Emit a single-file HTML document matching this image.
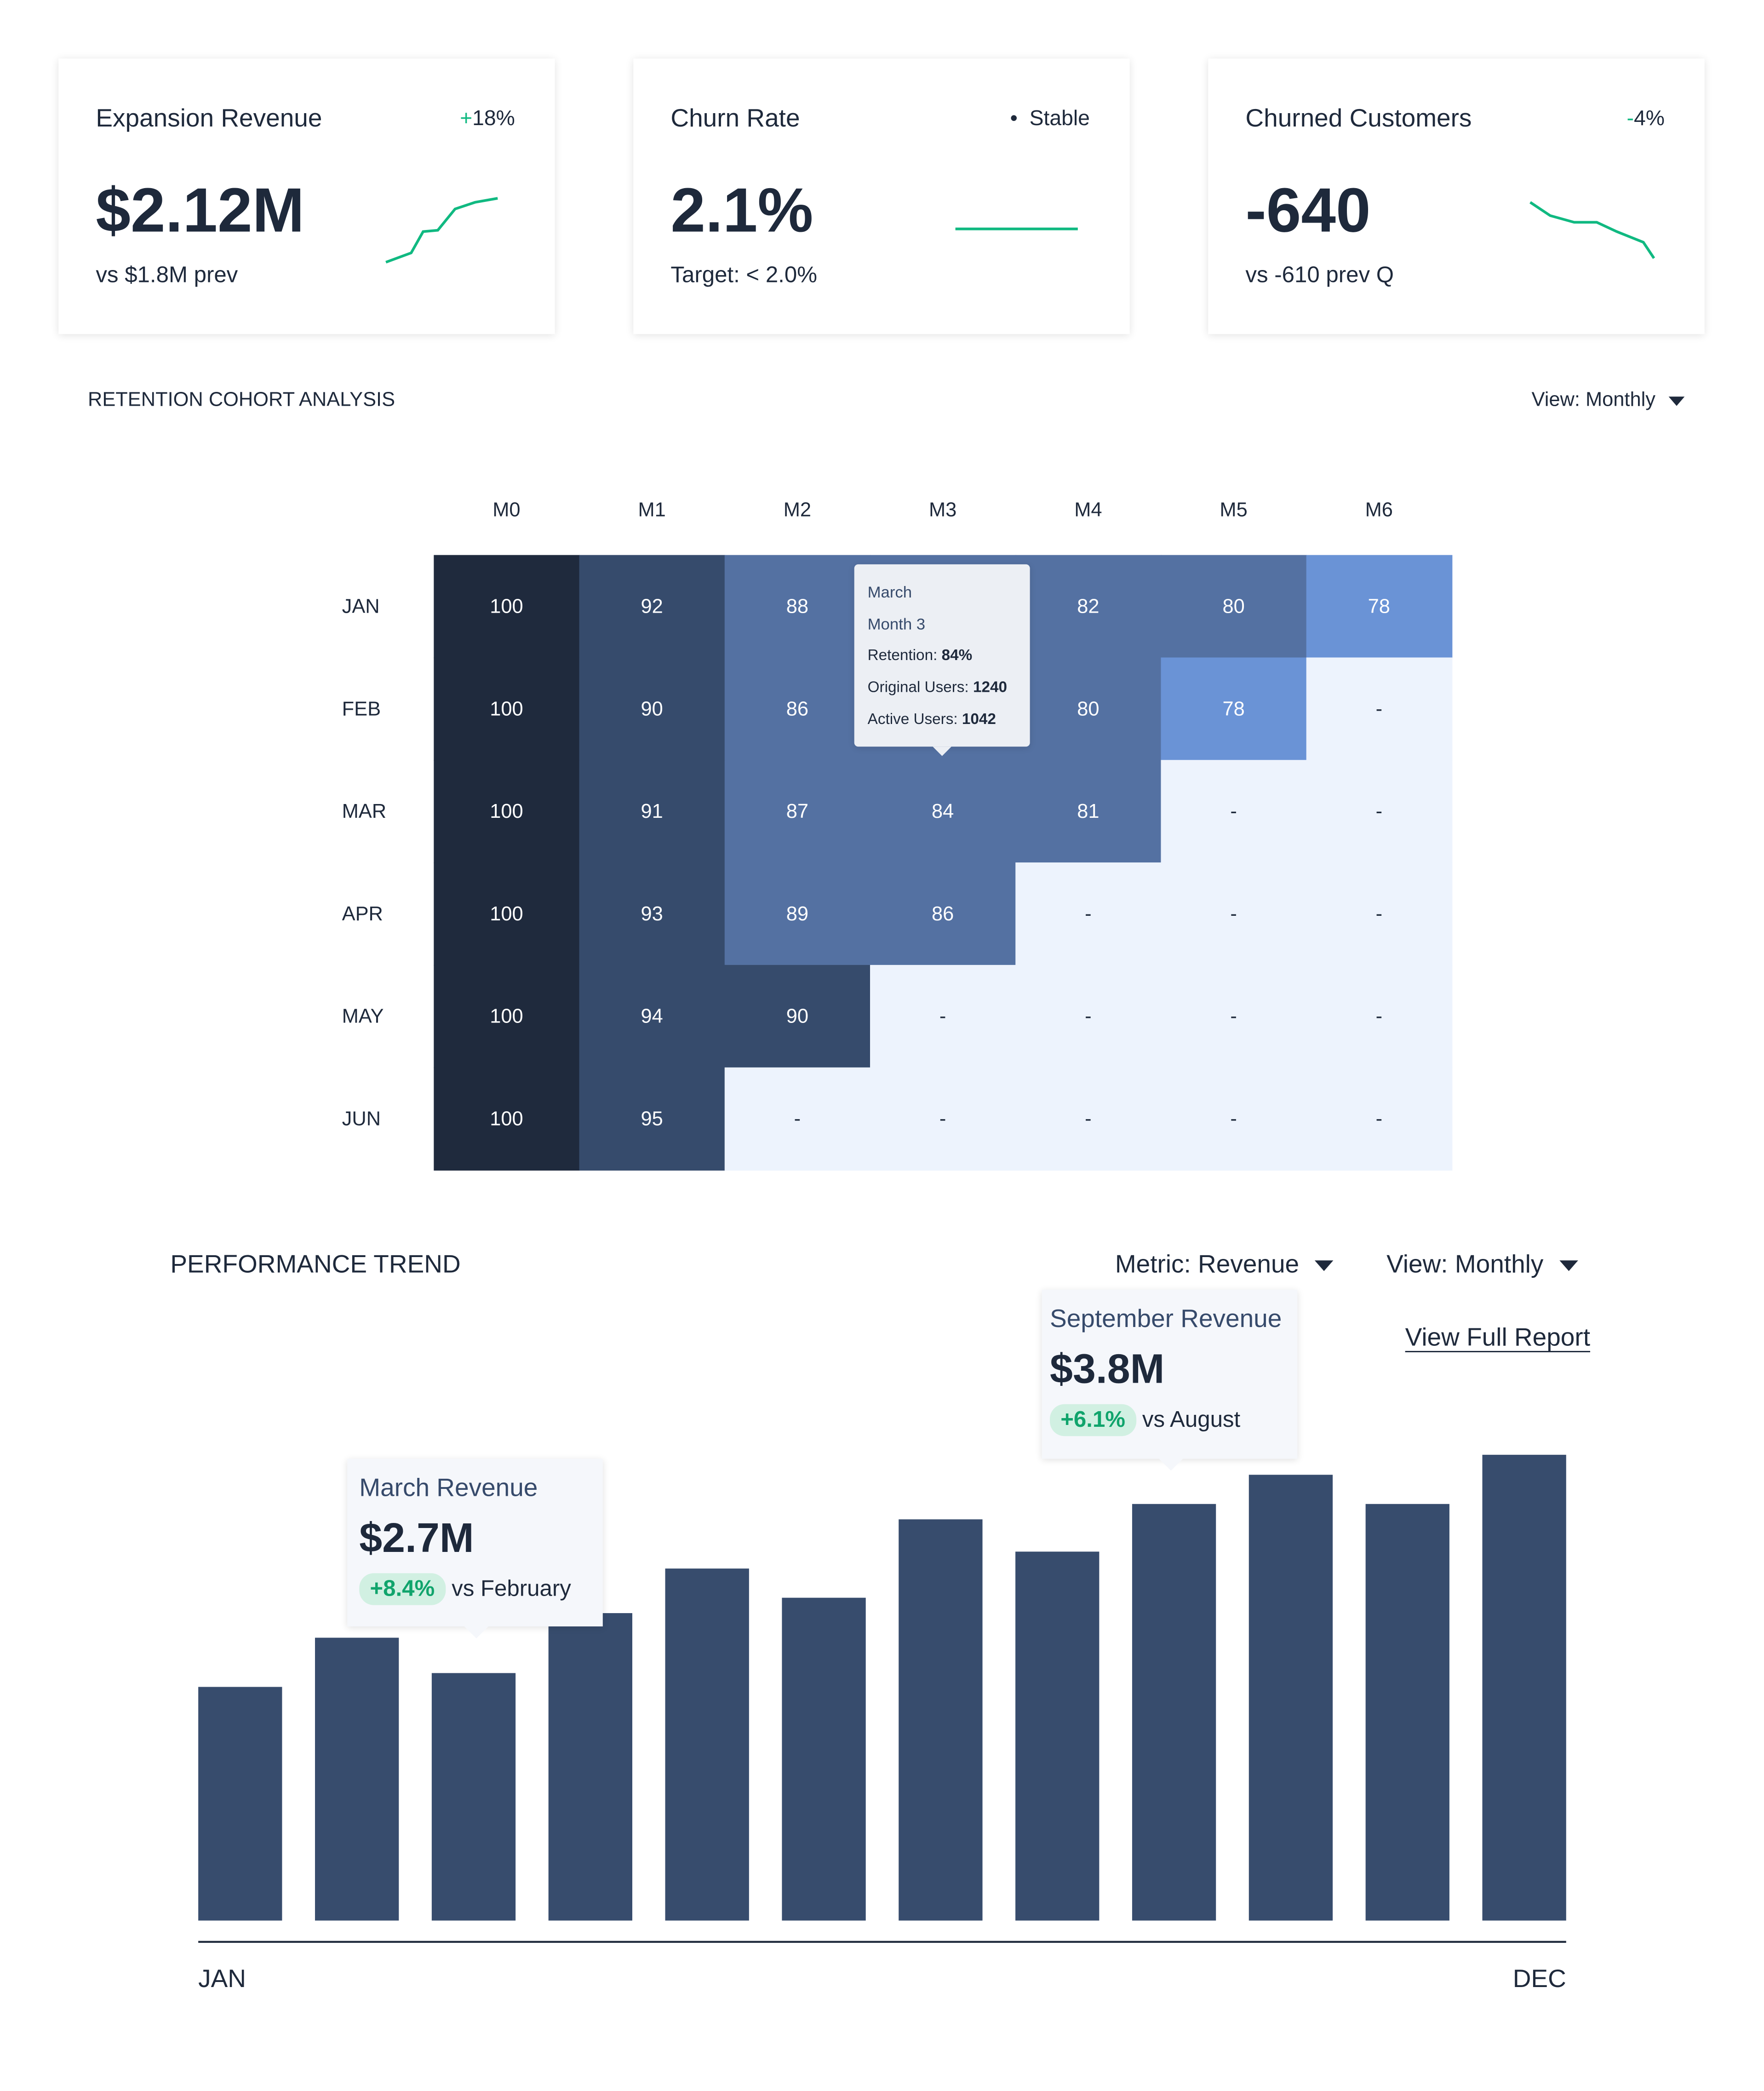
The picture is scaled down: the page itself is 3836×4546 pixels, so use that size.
<!DOCTYPE html>
<html><head><meta charset="utf-8">
<style>
html,body{margin:0;padding:0;background:#fff;}
body{width:3836px;height:4535px;overflow:hidden;}
#wrap{position:absolute;left:0;top:0;width:1326px;height:1568px;transform:scale(2.8936);transform-origin:0 0;font-family:"Liberation Sans",sans-serif;color:#1e293b;}
.card{position:absolute;top:44px;width:373px;height:207px;background:#fff;box-shadow:0 1px 6px rgba(0,0,0,0.12);}
.ct{position:absolute;left:28px;top:35px;font-size:19px;}
.cd{position:absolute;right:30px;top:37px;font-size:16px;}
.cv{position:absolute;left:28px;top:86px;font-size:47px;font-weight:bold;}
.cs{position:absolute;left:28px;top:153px;font-size:17px;}
.abs{position:absolute;}
.tip{position:absolute;background:#f5f7fb;box-shadow:0 1px 5px rgba(0,0,0,0.12);}
.badge{display:inline-block;background:#d1f0e2;color:#10a46c;border-radius:11px;padding:2px 8px;font-weight:bold;}
.tri{display:inline-block;width:0;height:0;border-left:7px solid transparent;border-right:7px solid transparent;border-top:8px solid #1e293b;vertical-align:middle;margin-left:12px;}
.tri.s{border-left-width:6px;border-right-width:6px;border-top-width:7px;margin-left:10px;}
</style></head><body>
<div id="wrap">
<div class="card" style="left:44px">
 <div class="ct">Expansion Revenue</div>
 <div class="cd"><span style="color:#10b981">+</span>18%</div>
 <div class="cv">$2.12M</div>
 <div class="cs">vs $1.8M prev</div>
 <svg class="abs" style="left:0;top:0" width="373" height="207"><polyline fill="none" stroke="#10b981" stroke-width="2" points="246,153 265,146 274,130 285,129 298,113 313,108 330,105"/></svg>
</div>
<div class="card" style="left:476px">
 <div class="ct">Churn Rate</div>
 <div class="cd">• &nbsp;Stable</div>
 <div class="cv">2.1%</div>
 <div class="cs">Target: &lt; 2.0%</div>
 <svg class="abs" style="left:0;top:0" width="373" height="207"><line x1="242" y1="128" x2="334" y2="128" stroke="#10b981" stroke-width="2"/></svg>
</div>
<div class="card" style="left:908px">
 <div class="ct">Churned Customers</div>
 <div class="cd"><span style="color:#10b981">-</span>4%</div>
 <div class="cv">-640</div>
 <div class="cs">vs -610 prev Q</div>
 <svg class="abs" style="left:0;top:0" width="373" height="207"><polyline fill="none" stroke="#10b981" stroke-width="2" points="242,108 257,118 275,123 292,123 307,130 327,138 335,150"/></svg>
</div>

<div class="abs" style="left:66px;top:292px;font-size:15px">RETENTION COHORT ANALYSIS</div>
<div class="abs" style="left:1151px;top:292px;font-size:15px">View: Monthly<span class="tri s"></span></div>

<svg id="heat" class="abs" style="left:0;top:0" width="1329" height="900"></svg>

<div class="tip" style="left:642px;top:424px;width:132px;height:137px;background:#eceff4;border-radius:3px;font-size:12px;line-height:24px;padding:9px 10px;box-sizing:border-box;">
 <div style="color:#364a6b">March</div><div style="color:#364a6b">Month 3</div>
 <div style="font-size:11.5px">Retention: <b>84%</b></div>
 <div style="font-size:11.5px">Original Users: <b>1240</b></div>
 <div style="font-size:11.5px">Active Users: <b>1042</b></div>
 <div style="position:absolute;left:59px;bottom:-7px;width:0;height:0;border-left:7px solid transparent;border-right:7px solid transparent;border-top:7px solid #eceff4"></div>
</div>

<div class="abs" style="left:128px;top:940px;font-size:19px">PERFORMANCE TREND</div>
<div class="abs" style="left:838px;top:940px;font-size:19px">Metric: Revenue<span class="tri"></span></div>
<div class="abs" style="left:1042px;top:940px;font-size:19px">View: Monthly<span class="tri"></span></div>
<div class="abs" style="left:1056px;top:995px;font-size:19px;text-decoration:underline;text-underline-offset:4px">View Full Report</div>

<svg id="bars" class="abs" style="left:0;top:0" width="1329" height="1571"></svg>

<div class="tip" style="left:261px;top:1096px;width:192px;height:126px;padding:12px 9px;box-sizing:border-box">
 <div style="font-size:19px;color:#364a6b">March Revenue</div>
 <div style="font-size:31px;font-weight:bold;margin-top:8px">$2.7M</div>
 <div style="font-size:17px;margin-top:8px"><span class="badge">+8.4%</span> vs February</div>
 <div style="position:absolute;left:88px;bottom:-9px;border-left:9px solid transparent;border-right:9px solid transparent;border-top:9px solid #f5f7fb"></div>
</div>
<div class="tip" style="left:783px;top:969px;width:192px;height:127px;padding:12px 6px;box-sizing:border-box">
 <div style="font-size:19px;color:#364a6b">September Revenue</div>
 <div style="font-size:31px;font-weight:bold;margin-top:8px">$3.8M</div>
 <div style="font-size:17px;margin-top:8px"><span class="badge">+6.1%</span> vs August</div>
 <div style="position:absolute;left:88px;bottom:-9px;border-left:9px solid transparent;border-right:9px solid transparent;border-top:9px solid #f5f7fb"></div>
</div>
</div>
<script>
const cohortRows=["JAN","FEB","MAR","APR","MAY","JUN"];
const cohortCols=["M0","M1","M2","M3","M4","M5","M6"];
const cohortValues=[
[100,92,88,84,82,80,78],
[100,90,86,84,80,78,null],
[100,91,87,84,81,null,null],
[100,93,89,86,null,null,null],
[100,94,90,null,null,null,null],
[100,95,null,null,null,null,null]];
const months=["JAN","FEB","MAR","APR","MAY","JUN","JUL","AUG","SEP","OCT","NOV","DEC"];
const revenue=[2.61,2.93,2.70,3.09,3.38,3.19,3.70,3.49,3.80,3.99,3.80,4.12];
const axisLabels=["JAN","DEC"];

const NS="http://www.w3.org/2000/svg";
function mk(p,t,a){const e=document.createElementNS(NS,t);for(const k in a)e.setAttribute(k,a[k]);p.appendChild(e);return e;}
const heat=document.getElementById('heat');
const hx0=326,cw=(1091-326)/7,hy0=417,rh=77;
function hx(i){return hx0+i*cw;}function hy(j){return hy0+j*rh;}
function col(v){if(v==null)return"#edf3fd";if(v>=100)return"#1f2a3d";if(v>=90)return"#364b6c";if(v>78)return"#5471a2";return"#6a93d6";}
cohortCols.forEach((c,i)=>{const t=mk(heat,'text',{x:hx(i)+cw/2,y:388,'text-anchor':'middle','font-size':15,fill:'#1e293b'});t.textContent=c;

});
cohortRows.forEach((r,j)=>{const t=mk(heat,'text',{x:257,y:hy(j)+rh/2+5,'font-size':15,fill:'#1e293b'});t.textContent=r;


cohortValues[j].forEach((v,i)=>{
const rc=mk(heat,'rect',{x:hx(i),y:hy(j),width:cw+0.5,height:rh+0.5,fill:col(v)});


const t2=mk(heat,'text',{x:hx(i)+cw/2,y:hy(j)+rh/2+5,'text-anchor':'middle','font-size':15,fill:v==null?'#1e293b':'#ffffff'});t2.textContent=v==null?'-':v;

});});

const bars=document.getElementById('bars');
const base=1443,pxPerUnit=115.5,vmin=1.09,bx0=149,step=(1177-149-63)/11,bw=63;
function yS(v){return base-(v-vmin)*pxPerUnit;}
function xS(i){return bx0+i*step;}
revenue.forEach((v,i)=>{const r=mk(bars,'rect',{x:xS(i),y:yS(v),width:bw,height:base-yS(v),fill:'#374c6d'});

});
const ax=mk(bars,'line',{x1:149,x2:1177,y1:1459,y2:1459,stroke:'#1e293b','stroke-width':1.5});


const l1=mk(bars,'text',{x:149,y:1493,'font-size':19,fill:'#1e293b'});l1.textContent=axisLabels[0];


const l2=mk(bars,'text',{x:1177,y:1493,'font-size':19,fill:'#1e293b','text-anchor':'end'});l2.textContent=axisLabels[1];


</script>
</body></html>
